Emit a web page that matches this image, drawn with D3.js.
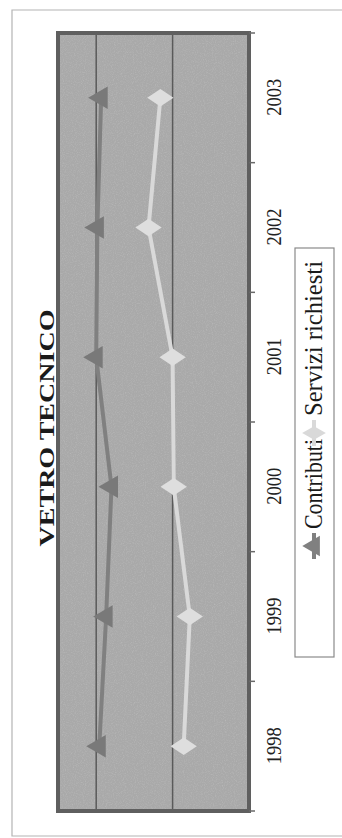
<!DOCTYPE html>
<html>
<head>
<meta charset="utf-8">
<script src="https://cdn.jsdelivr.net/npm/d3@7"></script>
<style>
  body { margin: 0; background: #fff; }
  svg { display: block; }
</style>
</head>
<body>
<div id="chart"></div>
<script>
// data (value axis has no labels, 0..500 assumed)
var years = ['1998', '1999', '2000', '2001', '2002', '2003'];
var contributi = [392, 374, 360, 400, 397, 387];
var servizi = [171, 155, 197, 200, 263, 232];
var gridValues = [200, 400];
var seriesNames = ['Contributi', 'Servizi richiesti'];

var W = 342, H = 838;
var serif = '"Liberation Serif", "Times New Roman", serif';

var svg = d3.select('#chart').append('svg')
    .attr('width', W)
    .attr('height', H);

// the whole chart is drawn lying on its side
var g = svg.append('g')
    .attr('transform', 'translate(0,' + H + ') rotate(-90)');

// outer frame (its far edge is cut off in the picture)
g.append('path')
    .attr('d', 'M2,342 L2,12 L828,12 L828,342')
    .attr('fill', 'none')
    .attr('stroke', '#b4b4b4')
    .attr('stroke-width', 1.2);

var plot = {left: 27, right: 805, top: 58, bottom: 249};

var x = d3.scalePoint()
    .domain(years)
    .range([plot.left, plot.right])
    .padding(0.5);

var band = d3.scaleBand()
    .domain(years)
    .range([plot.left, plot.right]);

var y = d3.scaleLinear()
    .domain([0, 500])
    .range([plot.bottom, plot.top]);

// grain for the plot area
var defs = svg.append('defs');
var f = defs.append('filter').attr('id', 'grain')
    .attr('x', 0).attr('y', 0).attr('width', 1).attr('height', 1);
f.append('feTurbulence')
    .attr('type', 'fractalNoise')
    .attr('baseFrequency', 0.9)
    .attr('numOctaves', 2)
    .attr('seed', 4)
    .attr('result', 'noise');
f.append('feColorMatrix')
    .attr('in', 'noise')
    .attr('type', 'matrix')
    .attr('values', '0 0 0 0 0.66  0 0 0 0 0.66  0 0 0 0 0.66  0.3 0.3 0.3 0 -0.42')
    .attr('result', 'tint');
f.append('feComposite').attr('in', 'tint').attr('in2', 'SourceGraphic').attr('operator', 'over');

g.append('rect')
    .attr('x', plot.left).attr('y', plot.top)
    .attr('width', plot.right - plot.left)
    .attr('height', plot.bottom - plot.top)
    .attr('fill', '#a9a9a9')
    .attr('filter', 'url(#grain)');

// gridlines
g.selectAll('line.grid')
  .data(gridValues)
  .enter().append('line')
    .attr('class', 'grid')
    .attr('x1', plot.left).attr('x2', plot.right)
    .attr('y1', function(d) { return y(d); })
    .attr('y2', function(d) { return y(d); })
    .attr('stroke', '#5a5a5a')
    .attr('stroke-width', 1.5);

// plot border
g.append('rect')
    .attr('x', plot.left).attr('y', plot.top)
    .attr('width', plot.right - plot.left)
    .attr('height', plot.bottom - plot.top)
    .attr('fill', 'none')
    .attr('stroke', '#5f5f5f')
    .attr('stroke-width', 4);

// category ticks at band edges
var edges = years.map(function(d) { return band(d); }).concat([plot.right]);
g.selectAll('line.tick')
  .data(edges)
  .enter().append('line')
    .attr('class', 'tick')
    .attr('x1', function(d) { return d; }).attr('x2', function(d) { return d; })
    .attr('y1', plot.bottom).attr('y2', plot.bottom + 6)
    .attr('stroke', '#6a6a6a')
    .attr('stroke-width', 1.5);

// year labels
var xAxis = g.append('g')
    .attr('transform', 'translate(0,' + plot.bottom + ')')
    .call(d3.axisBottom(x).tickSize(0).tickPadding(17));
xAxis.select('.domain').remove();
xAxis.selectAll('text')
    .style('font-family', serif)
    .style('font-size', '21px')
    .attr('textLength', 37)
    .attr('lengthAdjust', 'spacingAndGlyphs')
    .attr('fill', '#222');

// lines
var lineGen = d3.line()
    .x(function(d, i) { return x(years[i]); })
    .y(function(d) { return y(d); });

g.append('path')
    .datum(servizi)
    .attr('d', lineGen)
    .attr('fill', 'none')
    .attr('stroke', '#d9d9d9')
    .attr('stroke-width', 4);

g.append('path')
    .datum(contributi)
    .attr('d', lineGen)
    .attr('fill', 'none')
    .attr('stroke', '#808080')
    .attr('stroke-width', 4);

// markers
var diamond = d3.symbol().type(d3.symbolDiamond).size(200);
var triangle = d3.symbol().type(d3.symbolTriangle).size(220);

g.selectAll('path.serv')
  .data(servizi)
  .enter().append('path')
    .attr('class', 'serv')
    .attr('d', diamond)
    .attr('transform', function(d, i) { return 'translate(' + x(years[i]) + ',' + y(d) + ') scale(1.15,1)'; })
    .attr('fill', '#dedede');

g.selectAll('path.contr')
  .data(contributi)
  .enter().append('path')
    .attr('class', 'contr')
    .attr('d', triangle)
    .attr('transform', function(d, i) { return 'translate(' + x(years[i]) + ',' + y(d) + ')'; })
    .attr('fill', '#797979');

// title
g.append('text')
    .attr('x', 410).attr('y', 54)
    .attr('text-anchor', 'middle')
    .style('font-family', serif)
    .style('font-weight', 'bold')
    .style('font-size', '21px')
    .attr('textLength', 237)
    .attr('lengthAdjust', 'spacingAndGlyphs')
    .attr('fill', '#1a1a1a')
    .text('VETRO TECNICO');

// legend
var legend = g.append('g');
legend.append('rect')
    .attr('x', 181).attr('y', 295)
    .attr('width', 409).attr('height', 39)
    .attr('fill', '#fff')
    .attr('stroke', '#8a8a8a')
    .attr('stroke-width', 1.2);

var legendItems = [
  {name: seriesNames[0], x0: 279, len: 90, color: '#808080', sym: triangle},
  {name: seriesNames[1], x0: 392, len: 155, color: '#d9d9d9', sym: diamond}
];

legendItems.forEach(function(it) {
  legend.append('line')
    .attr('x1', it.x0).attr('x2', it.x0 + 26)
    .attr('y1', 314).attr('y2', 314)
    .attr('stroke', it.color)
    .attr('stroke-width', 4);
  legend.append('path')
    .attr('d', it.sym)
    .attr('transform', 'translate(' + (it.x0 + 13) + ',314) scale(0.9)')
    .attr('fill', it.color);
  legend.append('text')
    .attr('x', it.x0 + 30).attr('y', 322)
    .style('font-family', serif)
    .style('font-size', '25px')
    .attr('textLength', it.len)
    .attr('lengthAdjust', 'spacingAndGlyphs')
    .attr('fill', '#1a1a1a')
    .text(it.name);
});
</script>
</body>
</html>
